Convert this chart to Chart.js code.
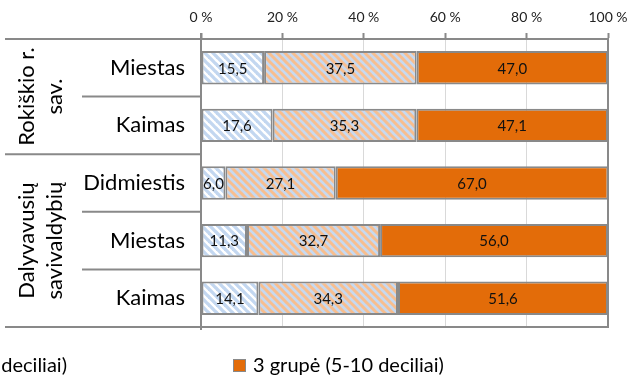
<!DOCTYPE html>
<html><head><meta charset="utf-8">
<script src="https://cdn.jsdelivr.net/npm/chart.js@4/dist/chart.umd.min.js"></script>
<style>html,body{margin:0;padding:0;background:#fff;overflow:hidden}#wrap{width:639px;height:378px;position:relative}</style>
</head><body><div id="wrap"><canvas id="c" width="639" height="378"></canvas></div>
<script>
const categories = ['Miestas', 'Kaimas', 'Didmiestis', 'Miestas', 'Kaimas'];
const groupLabels = [['Rokiškio r.', 'sav.'], ['Dalyvavusių', 'savivaldybių']];
const groupSizes = [2, 3];
const seriesNames = ['1 grupė (1-2 deciliai)', '2 grupė (3-4 deciliai)', '3 grupė (5-10 deciliai)'];
const group1 = [15.5, 17.6, 6.0, 11.3, 14.1];
const group2 = [37.5, 35.3, 27.1, 32.7, 34.3];
const group3 = [47.0, 47.1, 67.0, 56.0, 51.6];
const xTickValues = [0, 20, 40, 60, 80, 100];

const FONT = 'Lato';
const AXIS = '#898989';
const GRID = '#D9D9D9';

function stripes(bg, fg, w) {
  const c = document.createElement('canvas'); c.width = 8; c.height = 8;
  const x = c.getContext('2d');
  x.fillStyle = bg; x.fillRect(0, 0, 8, 8);
  x.strokeStyle = fg; x.lineWidth = w;
  for (const k of [-8, 0, 8]) { x.beginPath(); x.moveTo(k - 1, -1); x.lineTo(k + 9, 9); x.stroke(); }
  return x.createPattern(c, 'repeat');
}
const fills = [stripes('#FFFFFF', '#C3D7F0', 3.3), stripes('#C6D9F1', '#F8BE8E', 3.0), '#E36C09'];

const decor = {
  id: 'decor',
  afterDatasetsDraw(chart) {
    const ctx = chart.ctx, a = chart.chartArea;
    const n = categories.length, h = (a.bottom - a.top) / n;
    ctx.save();
    ctx.strokeStyle = AXIS; ctx.lineWidth = 2; ctx.lineCap = 'butt';
    const line = (x1, y1, x2, y2) => { ctx.beginPath(); ctx.moveTo(x1, y1); ctx.lineTo(x2, y2); ctx.stroke(); };
    line(5, a.top, a.left, a.top);
    line(5, a.bottom, a.right + 1, a.bottom);
    line(a.left, a.top - 6, a.left, a.bottom + 3);
    line(a.right, a.top, a.right, a.bottom);
    let idx = 0;
    groupSizes.forEach((gs, gi) => {
      for (let k = 1; k < gs; k++) { const y = a.top + (idx + k) * h; line(82, y, a.left, y); }
      idx += gs;
      if (gi < groupSizes.length - 1) { const y = a.top + idx * h; line(5, y, a.left, y); }
    });
    // outer group labels
    ctx.fillStyle = '#000'; ctx.font = '22px ' + FONT; ctx.textAlign = 'center'; ctx.textBaseline = 'middle';
    idx = 0;
    groupSizes.forEach((gs, gi) => {
      const cy = a.top + (idx + gs / 2) * h;
      ctx.save(); ctx.translate(41, cy); ctx.rotate(-Math.PI / 2);
      const lines = groupLabels[gi];
      lines.forEach((t, li) => ctx.fillText(t, 0, (li - (lines.length - 1) / 2) * 28));
      ctx.restore();
      idx += gs;
    });
    // data labels
    ctx.font = '15px ' + FONT; ctx.fillStyle = '#111';
    chart.data.datasets.forEach((ds, di) => {
      chart.getDatasetMeta(di).data.forEach((el, i) => {
        const p = el.getProps(['x', 'y', 'base'], true);
        ctx.fillText(ds.data[i].toFixed(1).replace('.', ','), (p.x + p.base) / 2, p.y + 1);
      });
    });
    // legend
    ctx.font = '20px ' + FONT; ctx.textAlign = 'left'; ctx.textBaseline = 'alphabetic';
    const ly = 372;
    const x3 = 233;
    const w2 = ctx.measureText(chart.data.datasets[1].label).width;
    const x2 = 67 - w2 - 20;
    const x1 = x2 - (x3 - x2);
    [x1, x2, x3].forEach((bx, di) => {
      const ds = chart.data.datasets[di];
      ctx.fillStyle = ds.backgroundColor; ctx.fillRect(bx, 359, 13, 13);
      ctx.strokeStyle = AXIS; ctx.lineWidth = 1; ctx.strokeRect(bx + 0.5, 359.5, 12, 12);
      ctx.fillStyle = '#000'; ctx.fillText(ds.label, bx + 20, ly);
    });
    ctx.restore();
  }
};

new Chart(document.getElementById('c'), {
  type: 'bar',
  data: {
    labels: categories,
    datasets: [group1, group2, group3].map((d, i) => ({
      label: seriesNames[i], data: d, backgroundColor: fills[i],
      borderColor: AXIS, borderWidth: 2, borderSkipped: false,
      barPercentage: 0.58, categoryPercentage: 1
    }))
  },
  options: {
    indexAxis: 'y', responsive: false, animation: false,
    layout: { padding: { left: 0, right: 31, top: 0, bottom: 51 } },
    plugins: { legend: { display: false }, tooltip: { enabled: false } },
    scales: {
      x: {
        position: 'top', stacked: true, min: 0, max: 100,
        afterBuildTicks(s) { s.ticks = xTickValues.map(v => ({ value: v })); },
        afterFit(s) { s.height = 39; },
        ticks: { callback: v => v + ' %', font: { family: FONT, size: 14 }, color: '#222', padding: 7, maxRotation: 0 },
        grid: { color: GRID, lineWidth: 1, tickColor: AXIS, tickLength: 6, tickWidth: 2 },
        border: { color: AXIS, width: 2 }
      },
      y: {
        stacked: true,
        afterFit(s) { s.width = 201; },
        ticks: { font: { family: FONT, size: 22 }, color: '#000', padding: 16 },
        grid: { display: false, drawTicks: false },
        border: { display: false }
      }
    }
  },
  plugins: [decor]
});
</script></body></html>
